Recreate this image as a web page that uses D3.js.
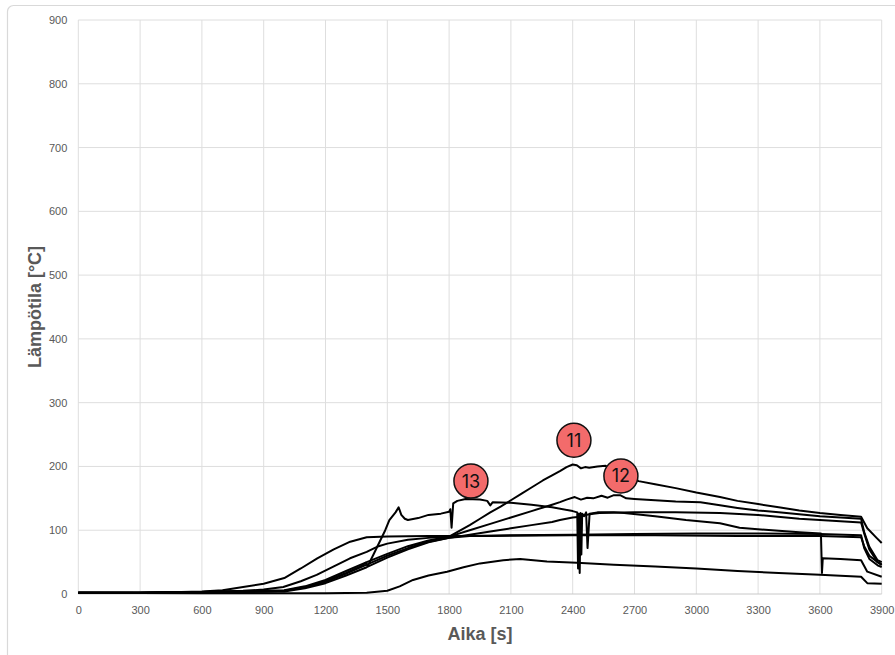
<!DOCTYPE html>
<html>
<head>
<meta charset="utf-8">
<script src="https://cdn.jsdelivr.net/npm/d3@7"></script>
<style>
    body { margin: 0; background: #fff; }
    svg { display: block; font-family: "Liberation Sans", Arial, sans-serif; }
</style>
</head>
<body>
<div id="chart"></div>
<script>

// time [s], temperature [°C] pairs
const curve11 = [[0,2],[300,2],[600,3],[800,4],[900,5],[1000,6],[1100,12],[1200,22],[1300,36],[1400,50],[1500,63],[1600,75],[1700,84],[1800,90],[1850,99],[1900,108],[1950,118],[2000,128],[2050,137],[2100,147],[2150,157],[2200,167],[2255,178],[2300,186],[2340,193],[2370,199],[2400,203],[2420,202],[2440,197],[2460,199],[2480,198],[2520,200],[2560,201],[2600,195],[2650,186],[2720,177],[2800,172],[2900,166],[3000,159],[3115,152],[3200,146],[3300,141],[3400,136],[3500,131],[3600,127],[3700,124],[3800,121],[3830,103],[3875,88],[3900,80]];
const curve12 = [[0,2],[300,2],[600,3],[800,5],[900,7],[995,11],[1080,20],[1157,30],[1238,43],[1319,56],[1400,66],[1450,74],[1500,79],[1600,85],[1700,88],[1800,90],[1900,100],[2000,110],[2100,120],[2200,130],[2300,140],[2338,144],[2370,148],[2410,152],[2440,148],[2470,151],[2500,150],[2540,154],[2570,151],[2600,155],[2630,155],[2660,150],[2700,149],[2800,147],[2900,145],[3020,144],[3115,139],[3200,135],[3300,131],[3400,128],[3500,125],[3600,122],[3700,120],[3800,118],[3815,97],[3840,74],[3880,53],[3900,50]];
const curve13 = [[0,2],[300,2],[600,3],[800,4],[900,4],[1000,5],[1100,11],[1200,20],[1300,33],[1380,45],[1395,49],[1405,44],[1430,60],[1460,80],[1490,100],[1510,116],[1540,128],[1555,136],[1568,124],[1585,118],[1600,116],[1650,119],[1700,124],[1760,126],[1800,129],[1806,133],[1812,104],[1820,142],[1840,146],[1880,149],[1950,148],[1985,146],[2000,139],[2012,144],[2100,143],[2200,140],[2300,136],[2400,130],[2422,128],[2426,40],[2430,126],[2434,33],[2438,127],[2442,62],[2446,126],[2455,122],[2465,128],[2472,72],[2482,126],[2520,128],[2600,128],[2650,127],[2800,122],[2950,116],[3115,111],[3210,104],[3400,99],[3500,97],[3605,95],[3610,33],[3614,56],[3700,55],[3800,53],[3830,35],[3900,27]];
const curveA = [[0,2],[300,2],[600,3],[800,4],[900,4],[1000,5],[1100,10],[1200,19],[1300,32],[1400,46],[1500,60],[1600,72],[1700,82],[1800,88],[1900,93],[2000,98],[2100,103],[2200,108],[2300,113],[2338,116],[2400,120],[2436,121],[2460,124],[2500,126],[2530,127],[2700,128],[2900,128],[3115,127],[3300,124],[3500,118],[3600,116],[3700,114],[3800,112],[3815,95],[3840,70],[3880,50],[3900,45]];
const curveB = [[0,2],[300,2],[500,3],[600,4],[700,6],[800,11],[900,16],[1000,25],[1080,40],[1160,56],[1240,70],[1320,82],[1400,89],[1500,90],[1700,91],[2000,91],[2400,92],[2800,92],[3200,91],[3600,91],[3800,89],[3815,75],[3840,60],[3880,50],[3900,47]];
const curveC = [[0,2],[300,2],[600,3],[800,3],[900,4],[1000,4],[1100,9],[1200,17],[1300,29],[1400,42],[1500,57],[1600,70],[1700,81],[1800,88],[1900,91],[2100,92],[2400,93],[2700,94],[3000,95],[3300,95],[3600,94],[3800,92],[3815,72],[3840,55],[3880,45],[3900,42]];
const curveD = [[0,2],[600,1],[1200,1],[1400,2],[1500,5],[1560,12],[1625,22],[1700,29],[1790,35],[1870,42],[1950,48],[2063,53],[2145,55],[2275,51],[2420,49],[2600,46],[2800,43],[3000,40],[3200,36],[3400,33],[3600,30],[3800,27],[3830,17],[3900,16]];

const xTicks = [0, 300, 600, 900, 1200, 1500, 1800, 2100, 2400, 2700, 3000, 3300, 3600, 3900];
const yTicks = [0, 100, 200, 300, 400, 500, 600, 700, 800, 900];

const markerLabels = ["11", "12", "13"];
const markerTimes = [2406, 2634, 1906];
const markerTemps = [241, 185, 177];

const xTitle = "Aika [s]";
const yTitle = "Lämpötila [°C]";


const renderChart = function() {

    const svgWidth = 895;
    const svgHeight = 655;
    const margin = {top: 20, right: 13.3, bottom: 61, left: 78.3};
    const innerWidth = svgWidth - margin.left - margin.right;
    const innerHeight = svgHeight - margin.top - margin.bottom;

    const svg = d3.select("#chart")
                  .append("svg")
                  .attr("width", svgWidth)
                  .attr("height", svgHeight);

    // outer chart frame (runs past the window edge)
    svg.append("rect")
       .attr("x", 7.5)
       .attr("y", 5.5)
       .attr("width", 920)
       .attr("height", 700)
       .attr("rx", 6)
       .attr("fill", "none")
       .attr("stroke", "#d9d9d9")
       .attr("stroke-width", 1.2);

    const xScale = d3.scaleLinear()
                     .domain([0, 3900])
                     .range([0, innerWidth]);

    const yScale = d3.scaleLinear()
                     .domain([0, 900])
                     .range([innerHeight, 0]);

    const g = svg.append("g")
                 .attr("transform", `translate(${margin.left}, ${margin.top})`);

    // grid
    g.append("g")
     .selectAll("line")
     .data(xTicks)
     .enter()
     .append("line")
     .attr("x1", d => xScale(d))
     .attr("x2", d => xScale(d))
     .attr("y1", 0)
     .attr("y2", innerHeight)
     .attr("stroke", "#dedede")
     .attr("stroke-width", 1);

    g.append("g")
     .selectAll("line")
     .data(yTicks)
     .enter()
     .append("line")
     .attr("x1", 0)
     .attr("x2", innerWidth)
     .attr("y1", d => yScale(d))
     .attr("y2", d => yScale(d))
     .attr("stroke", d => d === 0 ? "#c8c8c8" : "#dedede")
     .attr("stroke-width", 1);

    const xAxis = d3.axisBottom(xScale)
                    .tickValues(xTicks)
                    .tickFormat(d3.format("d"))
                    .tickSize(0)
                    .tickPadding(12);
    const yAxis = d3.axisLeft(yScale)
                    .tickValues(yTicks)
                    .tickFormat(d3.format("d"))
                    .tickSize(0)
                    .tickPadding(11);

    const xAxisGroup = g.append("g")
                        .attr("transform", `translate(0, ${innerHeight})`)
                        .call(xAxis);
    const yAxisGroup = g.append("g").call(yAxis);

    [xAxisGroup, yAxisGroup].forEach(function(ax) {
        ax.select(".domain").remove();
        ax.selectAll("text")
          .attr("fill", "#595959")
          .style("font-size", "11px")
          .style("font-family", "'Liberation Sans', Arial, sans-serif");
    });

    // curves
    const line = d3.line()
                   .x(d => xScale(d[0]))
                   .y(d => yScale(d[1]));

    const allCurves = [curveD, curveC, curveB, curveA, curve13, curve12, curve11];

    g.append("g")
     .selectAll("path")
     .data(allCurves)
     .enter()
     .append("path")
     .attr("d", line)
     .attr("fill", "none")
     .attr("stroke", "#000")
     .attr("stroke-width", 2)
     .attr("stroke-linejoin", "round");

    // numbered markers
    const markers = g.append("g")
                     .selectAll("g")
                     .data(markerLabels)
                     .enter()
                     .append("g")
                     .attr("transform", (d, i) => `translate(${xScale(markerTimes[i])}, ${yScale(markerTemps[i])})`);

    markers.append("circle")
           .attr("r", 17)
           .attr("fill", "#f36b6b")
           .attr("stroke", "#111")
           .attr("stroke-width", 1.5);

    markers.append("text")
           .attr("text-anchor", "middle")
           .attr("dy", "0.36em")
           .attr("fill", "#111")
           .style("font-family", "Inter, 'Noto Sans', sans-serif")
           .style("font-size", "18px")
           .text(d => d);

    // axis titles
    svg.append("text")
       .attr("x", margin.left + innerWidth / 2)
       .attr("y", 640)
       .attr("text-anchor", "middle")
       .attr("fill", "#595959")
       .attr("font-weight", "bold")
       .style("font-size", "18px")
       .text(xTitle);

    svg.append("text")
       .attr("transform", `translate(41, ${margin.top + innerHeight / 2}) rotate(-90)`)
       .attr("text-anchor", "middle")
       .attr("fill", "#595959")
       .attr("font-weight", "bold")
       .style("font-size", "18px")
       .text(yTitle);
};

renderChart();

</script>
</body>
</html>
